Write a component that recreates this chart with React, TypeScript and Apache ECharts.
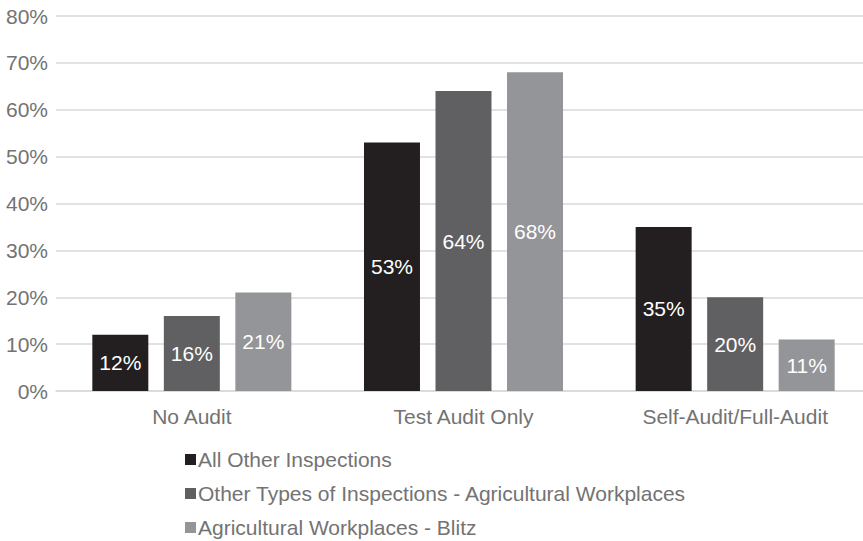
import React, { useEffect, useRef } from "react";
import * as echarts from "echarts";

const categories = ["No Audit", "Test Audit Only", "Self-Audit/Full-Audit"];
const seriesNames = [
  "All Other Inspections",
  "Other Types of Inspections - Agricultural Workplaces",
  "Agricultural Workplaces - Blitz",
];
const allOther = [12, 53, 35];
const otherAgri = [16, 64, 20];
const blitz = [21, 68, 11];
const colors = ["#231f20", "#606062", "#939598"];

export default function App() {
  const ref = useRef<HTMLDivElement>(null);
  useEffect(() => {
    if (!ref.current) return;
    const chart = echarts.init(ref.current, undefined, { renderer: "svg" });
    const font = "'Liberation Sans', Arial, sans-serif";
    const data = [allOther, otherAgri, blitz];
    chart.setOption({
      animation: false,
      textStyle: { fontFamily: font },
      grid: { left: 56, right: 0, top: 16, bottom: 150 },
      legend: {
        orient: "vertical",
        left: 180,
        top: 444,
        height: 120,
        itemWidth: 11,
        itemHeight: 11,
        itemGap: 13,
        icon: "rect",
        textStyle: { fontSize: 21, color: "#737373", fontFamily: font, padding: [0, 0, 0, -3] },
        data: seriesNames,
      },
      xAxis: {
        type: "category",
        data: categories,
        axisLine: { lineStyle: { color: "#d9d9d9", width: 1.5 } },
        axisTick: { show: false },
        axisLabel: { fontSize: 21, color: "#737373", margin: 15, fontFamily: font },
      },
      yAxis: {
        type: "value",
        min: 0,
        max: 80,
        interval: 10,
        axisLabel: { formatter: "{value}%", fontSize: 21, color: "#737373", margin: 8, fontFamily: font },
        splitLine: { lineStyle: { color: "#d9d9d9", width: 1.5 } },
        axisLine: { show: false },
        axisTick: { show: false },
      },
      series: seriesNames.map((name, i) => ({
        name,
        type: "bar",
        data: data[i],
        barWidth: 56,
        barGap: "27.7%",
        itemStyle: { color: colors[i] },
        label: {
          show: true,
          position: "inside",
          formatter: "{c}%",
          color: "#ffffff",
          fontSize: 21,
          fontFamily: font,
        },
      })),
    });
    return () => chart.dispose();
  }, []);
  return (
    <div style={{ position: "fixed", left: 0, top: 0, width: 863, height: 541, overflow: "hidden", background: "#fff" }}>
      <div ref={ref} style={{ width: 871, height: 541 }} />
    </div>
  );
}
